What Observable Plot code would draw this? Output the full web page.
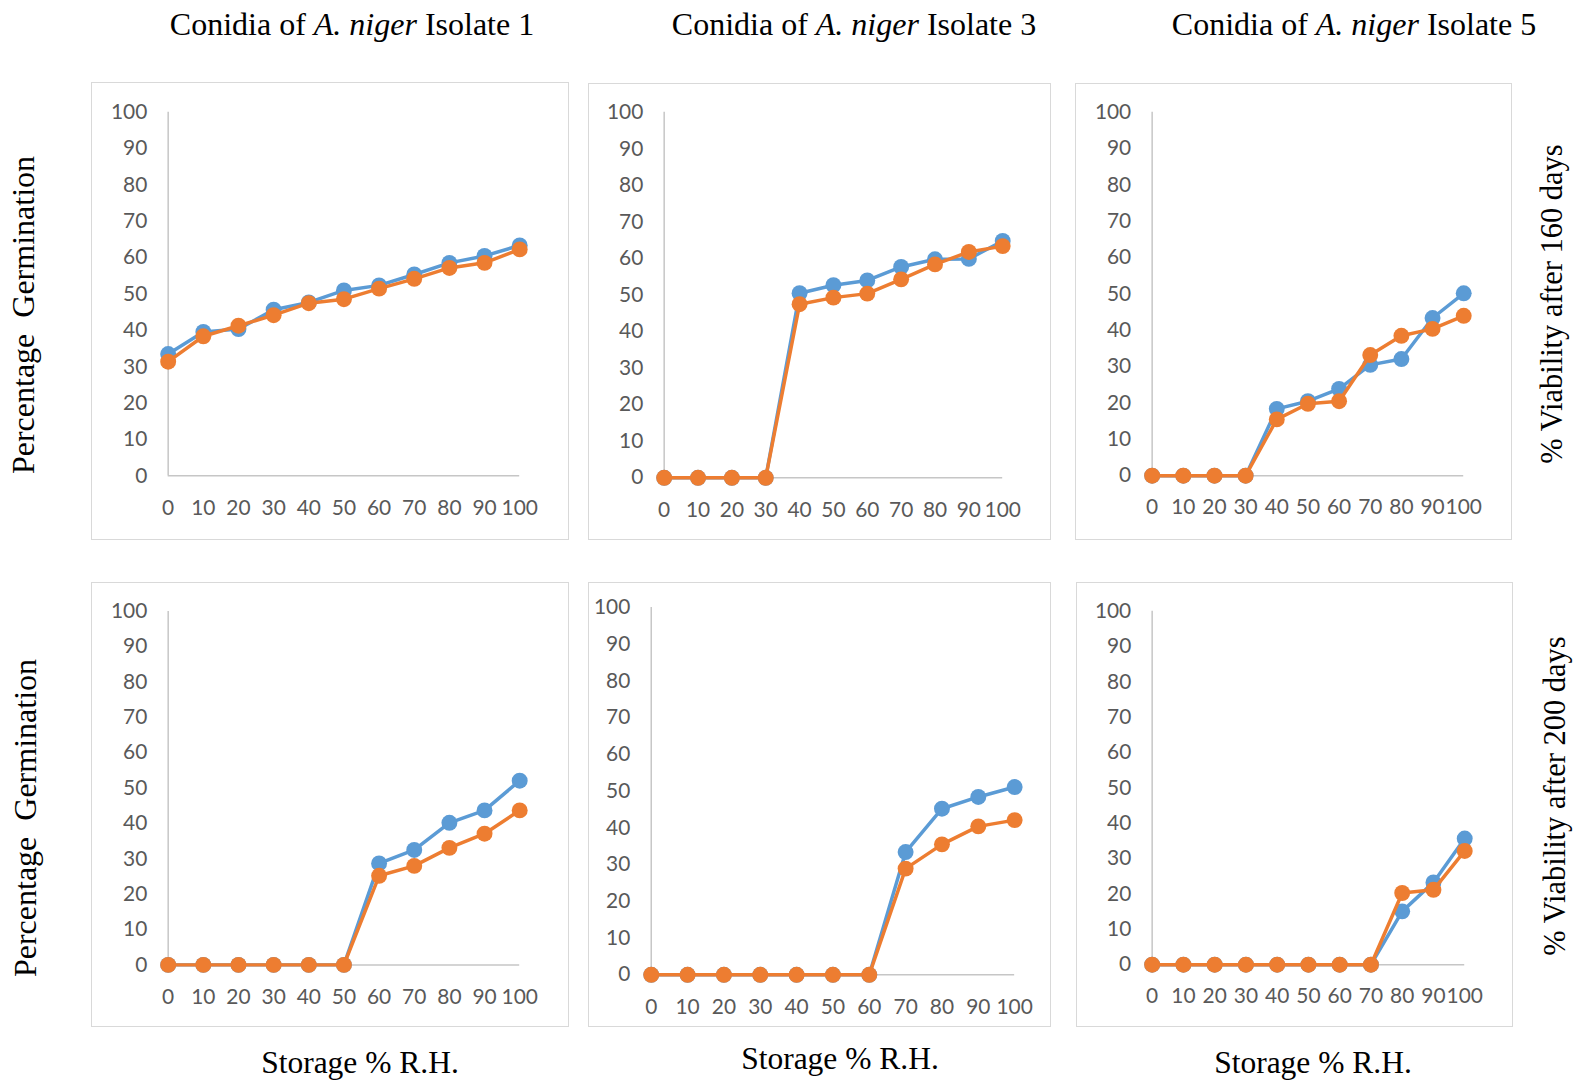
<!DOCTYPE html>
<html>
<head>
<meta charset="utf-8">
<script src="https://cdn.jsdelivr.net/npm/d3@7"></script>
<script src="https://cdn.jsdelivr.net/npm/@observablehq/plot@0.6"></script>
<style>
  html, body { margin: 0; padding: 0; background: #fff; }
  #root { position: relative; width: 1577px; height: 1080px; overflow: hidden; background: #fff; }
  .panel { position: absolute; box-sizing: border-box; border: 1px solid #d9d9d9; background: #fff; }
  .panel svg { display: block; position: absolute; left: -1px; top: -1px; }
  #overlay { position: absolute; left: 0; top: 0; pointer-events: none; }
</style>
</head>
<body>
<div id="root"></div>
<script>
// ---------- data ----------
const rh = [0, 10, 20, 30, 40, 50, 60, 70, 80, 90, 100];
const yTicks = [0, 10, 20, 30, 40, 50, 60, 70, 80, 90, 100];

const isolateTitles = ["Isolate 1", "Isolate 3", "Isolate 5"];
const rowLabelsLeft = ["Percentage  Germination", "Percentage  Germination"];
const rowLabelsRight = ["% Viability after 160 days", "% Viability after 200 days"];
const xAxisTitle = "Storage % R.H.";

// 160 days
const iso1_160_blue   = [33.5, 39.6, 40.4, 45.7, 47.7, 51.0, 52.4, 55.4, 58.6, 60.5, 63.4];
const iso1_160_orange = [31.4, 38.4, 41.3, 44.2, 47.5, 48.6, 51.5, 54.2, 57.2, 58.6, 62.3];
const iso3_160_blue   = [0, 0, 0, 0, 50.5, 52.7, 54.0, 57.7, 59.8, 59.9, 64.8];
const iso3_160_orange = [0, 0, 0, 0, 47.5, 49.3, 50.4, 54.3, 58.4, 61.8, 63.4];
const iso5_160_blue   = [0, 0, 0, 0, 18.4, 20.5, 23.9, 30.5, 32.1, 43.4, 50.2];
const iso5_160_orange = [0, 0, 0, 0, 15.5, 19.8, 20.5, 33.2, 38.5, 40.4, 44.0];
// 200 days
const iso1_200_blue   = [0, 0, 0, 0, 0, 0, 28.7, 32.5, 40.2, 43.7, 52.1];
const iso1_200_orange = [0, 0, 0, 0, 0, 0, 25.2, 28.0, 33.1, 37.1, 43.7];
const iso3_200_blue   = [0, 0, 0, 0, 0, 0, 0, 33.4, 45.2, 48.4, 51.1];
const iso3_200_orange = [0, 0, 0, 0, 0, 0, 0, 28.9, 35.5, 40.4, 42.1];
const iso5_200_blue   = [0, 0, 0, 0, 0, 0, 0, 0, 15.1, 23.3, 35.7];
const iso5_200_orange = [0, 0, 0, 0, 0, 0, 0, 0, 20.3, 21.2, 32.2];

// ---------- layout ----------
const BLUE = "#5b9bd5", ORANGE = "#ed7d31", AXIS = "#c6c6c6", TICK = "#595959";
const panels = [
  {blue: iso1_160_blue, orange: iso1_160_orange, left: 91,  top: 82,  w: 478, h: 458, ml: 77, mr: 48, mt: 30, mb: 63},
  {blue: iso3_160_blue, orange: iso3_160_orange, left: 588, top: 83,  w: 463, h: 457, ml: 76, mr: 47, mt: 29, mb: 61},
  {blue: iso5_160_blue, orange: iso5_160_orange, left: 1075, top: 83, w: 437, h: 457, ml: 77, mr: 47, mt: 29, mb: 63},
  {blue: iso1_200_blue, orange: iso1_200_orange, left: 91,  top: 582, w: 478, h: 445, ml: 77, mr: 48, mt: 29, mb: 61},
  {blue: iso3_200_blue, orange: iso3_200_orange, left: 588, top: 582, w: 463, h: 445, ml: 63, mr: 35, mt: 25, mb: 51},
  {blue: iso5_200_blue, orange: iso5_200_orange, left: 1076, top: 582, w: 437, h: 445, ml: 76, mr: 47, mt: 29, mb: 61}
];

const root = document.getElementById("root");

panels.forEach(p => {
  const blueData = rh.map((x, i) => ({x, y: p.blue[i]}));
  const orangeData = rh.map((x, i) => ({x, y: p.orange[i]}));
  const chart = Plot.plot({
    width: p.w, height: p.h,
    marginLeft: p.ml, marginRight: p.mr, marginTop: p.mt, marginBottom: p.mb,
    style: {fontFamily: "Lato, 'Open Sans', sans-serif", fontSize: "21px", color: TICK, background: "transparent", overflow: "visible"},
    x: {domain: [0, 100], ticks: rh, tickSize: 0, tickPadding: 24, label: null, tickFormat: d => String(d)},
    y: {domain: [0, 100], ticks: yTicks, tickSize: 0, tickPadding: 21, label: null, tickFormat: d => String(d)},
    marks: [
      Plot.ruleX([0], {y1: 0, y2: 100, stroke: AXIS, strokeWidth: 1.5}),
      Plot.ruleY([0], {x1: 0, x2: 100, stroke: AXIS, strokeWidth: 1.5}),
      Plot.line(blueData, {x: "x", y: "y", stroke: BLUE, strokeWidth: 3.5}),
      Plot.dot(blueData, {x: "x", y: "y", r: 8, fill: BLUE, stroke: "none"}),
      Plot.line(orangeData, {x: "x", y: "y", stroke: ORANGE, strokeWidth: 3.5}),
      Plot.dot(orangeData, {x: "x", y: "y", r: 8, fill: ORANGE, stroke: "none"})
    ]
  });
  const div = document.createElement("div");
  div.className = "panel";
  div.style.left = p.left + "px";
  div.style.top = p.top + "px";
  div.style.width = p.w + "px";
  div.style.height = p.h + "px";
  div.appendChild(chart);
  root.appendChild(div);
});

// ---------- text overlay ----------
const svg = d3.select(root).append("svg")
  .attr("id", "overlay").attr("width", 1577).attr("height", 1080)
  .style("font-family", "'Liberation Serif', 'Times New Roman', serif")
  .style("fill", "#000");

const titleX = [352, 854, 1354];
isolateTitles.forEach((t, i) => {
  const txt = svg.append("text").attr("x", titleX[i]).attr("y", 35)
    .attr("text-anchor", "middle").style("font-size", "32px");
  txt.append("tspan").text("Conidia of ");
  txt.append("tspan").style("font-style", "italic").text("A. niger");
  txt.append("tspan").text(" " + t);
});

const leftPos = [[34, 315], [36, 818]];
rowLabelsLeft.forEach((t, i) => {
  svg.append("text")
    .attr("transform", `translate(${leftPos[i][0]},${leftPos[i][1]}) rotate(-90)`)
    .attr("text-anchor", "middle").attr("xml:space", "preserve")
    .style("white-space", "pre").style("font-size", "32px").text(t);
});

const rightPos = [[1562, 304], [1565, 796]];
rowLabelsRight.forEach((t, i) => {
  svg.append("text")
    .attr("transform", `translate(${rightPos[i][0]},${rightPos[i][1]}) rotate(-90)`)
    .attr("text-anchor", "middle").style("font-size", "30.5px").text(t);
});

const bottomPos = [[360, 1073], [840, 1069], [1313, 1073]];
bottomPos.forEach(([x, y]) => {
  svg.append("text").attr("x", x).attr("y", y).attr("text-anchor", "middle")
    .style("font-size", "31.5px").text(xAxisTitle);
});
</script>
</body>
</html>
